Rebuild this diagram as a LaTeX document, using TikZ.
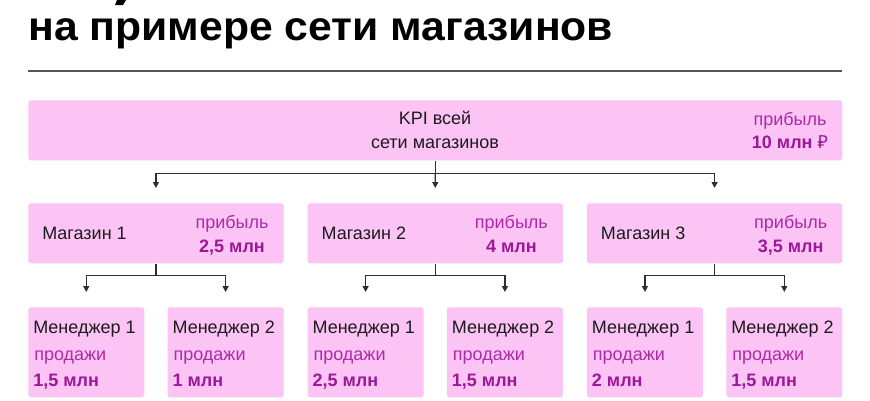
\documentclass[tikz,border=0pt]{standalone}
\usepackage{fontspec}
\setmainfont{Liberation Sans}
\newfontfamily\titlefont{Liberation Sans}[FakeStretch=1.05]
\newfontfamily\rubfont{Noto Sans}
\usetikzlibrary{arrows.meta,calc}
\definecolor{boxpink}{HTML}{FBC4F4}
\definecolor{magreg}{HTML}{AD2AA9}
\definecolor{magbold}{HTML}{9C1898}
\definecolor{ink}{HTML}{1C1A1C}
\definecolor{rulegray}{HTML}{555555}
\definecolor{linegray}{HTML}{2E2E2E}
\tikzset{
 pbox/.style={fill=boxpink, draw=none, rounded corners=2pt, inner sep=0pt, anchor=north west},
 topbox/.style={pbox, minimum width=610.5pt, minimum height=45pt},
 storebox/.style={pbox, minimum width=191.5pt, minimum height=45pt},
 mgrbox/.style={pbox, minimum width=87pt, minimum height=67.5pt},
 lbl/.style={font=\fontsize{13.5}{16}\selectfont, text=ink, inner sep=0pt},
 plainlbl/.style={lbl, text=magreg},
 vallbl/.style={lbl, text=magbold, font=\fontsize{13.5}{16}\selectfont\bfseries},
 wire/.style={draw=linegray, line width=1pt},
 arr/.style={wire, -{Triangle[width=4.5pt,length=4.5pt]}, shorten >=11.25pt},
}
\newcommand\storeunit[4]{%
  \node[storebox] (#2) at (#1,203) {};
  \node[lbl, anchor=base west] (#2-name) at ({#1+14},239) {#3};
  \node[plainlbl, anchor=base] (#2-k) at ({#1+204},228) {прибыль};
  \node[vallbl, anchor=base] (#2-v) at ({#1+204},252) {#4};
}
\newcommand\mgrunit[4]{%
  \node[mgrbox] (#2) at (#1,307) {};
  \node[lbl, anchor=base west] (#2-name) at ({#1+5},333) {Менеджер #3};
  \node[plainlbl, anchor=base west] (#2-k) at ({#1+6},360) {продажи};
  \node[vallbl, anchor=base west] (#2-v) at ({#1+5},386) {#4};
}
\begin{document}
\begin{tikzpicture}[x=0.75pt,y=-0.75pt]
\fill[white] (0,0) rectangle (870,400);
\useasboundingbox (0,0) rectangle (870,400);
% fragment of the line above the title
\fill[black] (117,0) -- (126,0) -- (123,5) -- (115,5) -- cycle;
\node[anchor=base west, inner sep=0pt, font=\titlefont\fontsize{30.5}{36}\selectfont\bfseries, text=black] (title) at (28,40) {на примере сети магазинов};
\coordinate (rl) at (28,71);
\coordinate (rr) at (842,71);
\draw[rulegray, line width=1.5pt] (rl) -- (rr);
% top box
\node[topbox] (top) at (28,100) {};
\node[lbl, anchor=base] (kpi1) at (435,124) {KPI всей};
\node[lbl, anchor=base] (kpi2) at (435,148) {сети магазинов};
\node[plainlbl, anchor=base] (top-k) at (790,125) {прибыль};
\node[vallbl, anchor=base] (top-v) at (790,148) {10 млн {\rubfont\bfseries ₽}};
% stores
\storeunit{28}{s1}{Магазин 1}{2,5 млн}
\storeunit{307.33}{s2}{Магазин 2}{4 млн}
\storeunit{586.67}{s3}{Магазин 3}{3,5 млн}
% managers
\mgrunit{28}{m11}{1}{1,5 млн}
\mgrunit{167.33}{m12}{2}{1 млн}
\mgrunit{307.33}{m21}{1}{2,5 млн}
\mgrunit{446.67}{m22}{2}{1,5 млн}
\mgrunit{586.67}{m31}{1}{2 млн}
\mgrunit{726}{m32}{2}{1,5 млн}
% connectors
\coordinate (tj) at ($(top.south)+(0,13)$);
\draw[wire] (top.south) -- (tj);
\draw[arr] (tj) -| (s1.north);
\draw[arr] (tj) -- (s2.north);
\draw[arr] (tj) -| (s3.north);
\foreach \s in {1,2,3}{
  \coordinate (s\s j) at ($(s\s.south)+(0,12)$);
  \draw[wire] (s\s.south) -- (s\s j);
  \draw[arr] (s\s j) -| (m\s1.north);
  \draw[arr] (s\s j) -| (m\s2.north);
}
\end{tikzpicture}
\end{document}
